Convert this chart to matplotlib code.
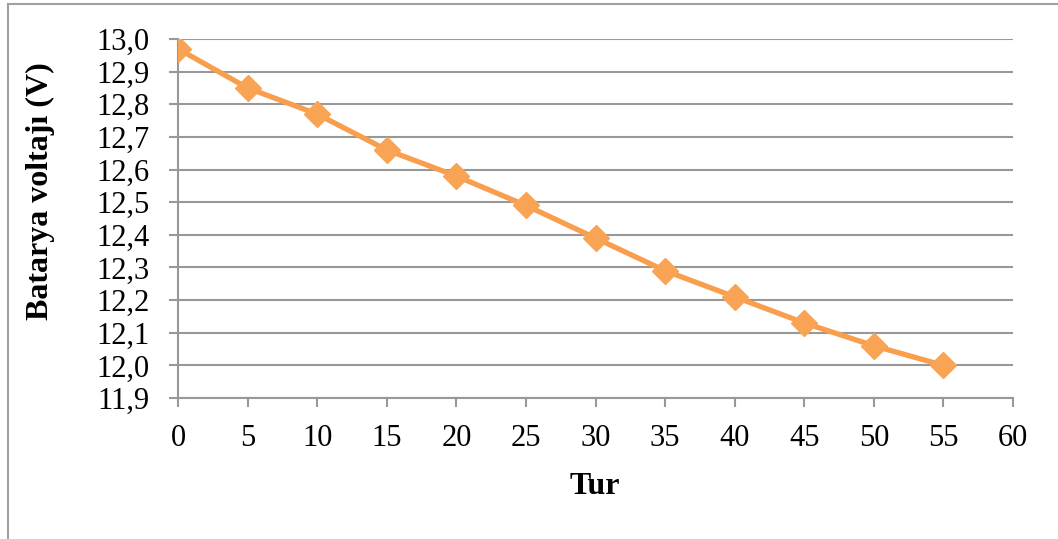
import matplotlib
matplotlib.use("Agg")
import matplotlib.pyplot as plt
from matplotlib.ticker import FuncFormatter, MultipleLocator
from matplotlib.lines import Line2D

# Battery voltage measured after each lap
tur = [0, 5, 10, 15, 20, 25, 30, 35, 40, 45, 50, 55]
voltaj = [12.97, 12.85, 12.77, 12.66, 12.58, 12.49, 12.39, 12.29, 12.21, 12.13, 12.06, 12.00]

x_label = "Tur"
y_label = "Batarya voltajı (V)"

plt.rcParams["font.family"] = ["Liberation Serif", "DejaVu Serif"]

W, H = 1058, 539
fig = plt.figure(figsize=(W / 100, H / 100), dpi=100)
ax = fig.add_axes([178 / W, 1 - 398 / H, (1013 - 178) / W, (398 - 39) / H])

grid_color = "#989898"
line_color = "#F89E4C"
marker_color = "#F9A454"

ax.plot(tur, voltaj, color=line_color, lw=3.8, marker="D", ms=13,
        markerfacecolor=marker_color, markeredgecolor=marker_color, zorder=3,
        solid_joinstyle="round")

ax.set_xlim(0, 60)
ax.set_ylim(11.9, 13.0)
ax.xaxis.set_major_locator(MultipleLocator(5))
ax.yaxis.set_major_locator(MultipleLocator(0.1))
ax.yaxis.set_major_formatter(FuncFormatter(lambda v, p: f"{v:.1f}".replace(".", ",")))

ax.grid(axis="y", color=grid_color, lw=1.5)
ax.set_axisbelow(True)
for side in ("top", "right"):
    ax.spines[side].set_visible(False)
for side in ("left", "bottom"):
    ax.spines[side].set_color(grid_color)
    ax.spines[side].set_linewidth(1.5)

ax.tick_params(axis="both", direction="out", length=6.5, width=1.5,
               color=grid_color, labelsize=22, labelcolor="black")
ax.tick_params(axis="x", pad=12)
ax.tick_params(axis="y", pad=14)

ax.set_xlabel(x_label, fontsize=23, fontweight="bold", va="center")
ax.set_ylabel(y_label, fontsize=23, fontweight="bold", va="center")
ax.xaxis.set_label_coords(595 / W, 1 - 487 / H, transform=fig.transFigure)
ax.yaxis.set_label_coords(40 / W, 1 - 191 / H, transform=fig.transFigure)

# chart area border (top and left edges)
fig.add_artist(Line2D([8 / W, 1.0], [1 - 4 / H, 1 - 4 / H],
                      transform=fig.transFigure, color="#a0a0a0", lw=1.5))
fig.add_artist(Line2D([8 / W, 8 / W], [0.0, 1 - 4 / H],
                      transform=fig.transFigure, color="#a0a0a0", lw=1.5))

fig.savefig("out.png", dpi=100)
